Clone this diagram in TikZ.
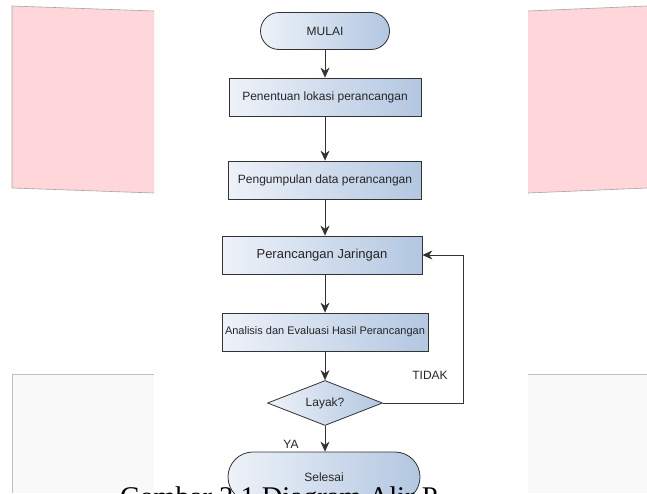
\documentclass[tikz,border=0pt]{standalone}
\usepackage{fontspec}
\setmainfont{Liberation Serif}
\setsansfont{Liberation Sans}
\usetikzlibrary{shapes.geometric,arrows.meta}
\definecolor{boxL}{HTML}{EEF2F9}
\definecolor{boxR}{HTML}{B3C7E1}
\definecolor{pinkbg}{HTML}{FFD6DA}
\definecolor{greybg}{HTML}{F9F9F9}
\tikzset{
  proses/.style={draw=black!80, line width=0.8pt, left color=boxL, right color=boxR,
    minimum height=38pt, inner sep=0pt, text=black!85,
    font=\sffamily\fontsize{12}{14}\selectfont},
  terminal/.style={proses, rounded corners=18.5pt, minimum height=37pt},
  putusan/.style={proses, diamond, aspect=2.5},
  alur/.style={-{Stealth[length=10pt,width=9pt]}, line width=0.8pt, draw=black!80},
  ket/.style={font=\sffamily\fontsize{12}{14}\selectfont, text=black!85}
}

\begin{document}
\begin{tikzpicture}[x=1pt,y=-1pt]
        \clip (0,0) rectangle (647,493);
        \fill[white] (0,0) rectangle (647,493);

        % latar belakang
        \fill[pinkbg] (12,6) -- (154,11) -- (154,193) -- (12,188) -- cycle;
        \draw[gray!70, line width=0.6pt] (154,11) -- (12,6) -- (12,188) -- (154,193);
        \fill[pinkbg] (528,11) -- (647,6) -- (647,188) -- (528,193) -- cycle;
        \draw[gray!70, line width=0.6pt] (528,11) -- (647,6);
        \draw[gray!70, line width=0.6pt] (528,193) -- (647,188);
        \fill[greybg] (12,374) rectangle (154,493);
        \draw[gray!50, line width=0.6pt] (154,374) -- (12,374) -- (12,493);
        \fill[greybg] (528,374) rectangle (647,493);
        \draw[gray!50, line width=0.6pt] (528,374) -- (647,374);

        % alur
        \node[terminal, minimum width=129pt] (mulai) at (325,31) {MULAI};
        \node[proses, minimum width=192pt] (lok) at (325,97) {Penentuan lokasi perancangan};
        \node[proses, minimum width=193pt] (data) at (325,180) {Pengumpulan data perancangan};
        \node[proses, minimum width=200pt, font=\sffamily\fontsize{13}{15}\selectfont]
          (jar) at (322,255) {Perancangan Jaringan};
        \node[proses, minimum width=206pt, font=\sffamily\fontsize{11}{13}\selectfont]
          (eval) at (325,332) {Analisis dan Evaluasi Hasil Perancangan};
        \node[putusan, minimum width=115pt, minimum height=45pt] (layak) at (325,403) {Layak?};
        \node[terminal, minimum width=192pt, minimum height=50pt, rounded corners=25pt]
          (selesai) at (324,477) {Selesai};
        \coordinate (balik) at (463,255);

        \draw[alur] (mulai) -- (lok);
        \draw[alur] (lok) -- (data);
        \draw[alur] (data.south) -- (data.south |- jar.north);
        \draw[alur] (jar.south -| eval.north) -- (eval);
        \draw[alur] (eval) -- (layak);
        \draw[alur] (layak.south) -- (layak.south |- selesai.north);
        \draw[alur] (layak.east) -| (balik) -- (jar.east);

        \node[ket] (tidak) at (430,375) {TIDAK};
        \node[ket] (ya) at (291,444) {YA};

        % keterangan gambar
        \node[anchor=base west, inner sep=0pt, font=\fontsize{28.5}{30}\selectfont]
          (judul) at (120,506) {Gambar 3.1 Diagram Alir P};
\end{tikzpicture}
\end{document}
